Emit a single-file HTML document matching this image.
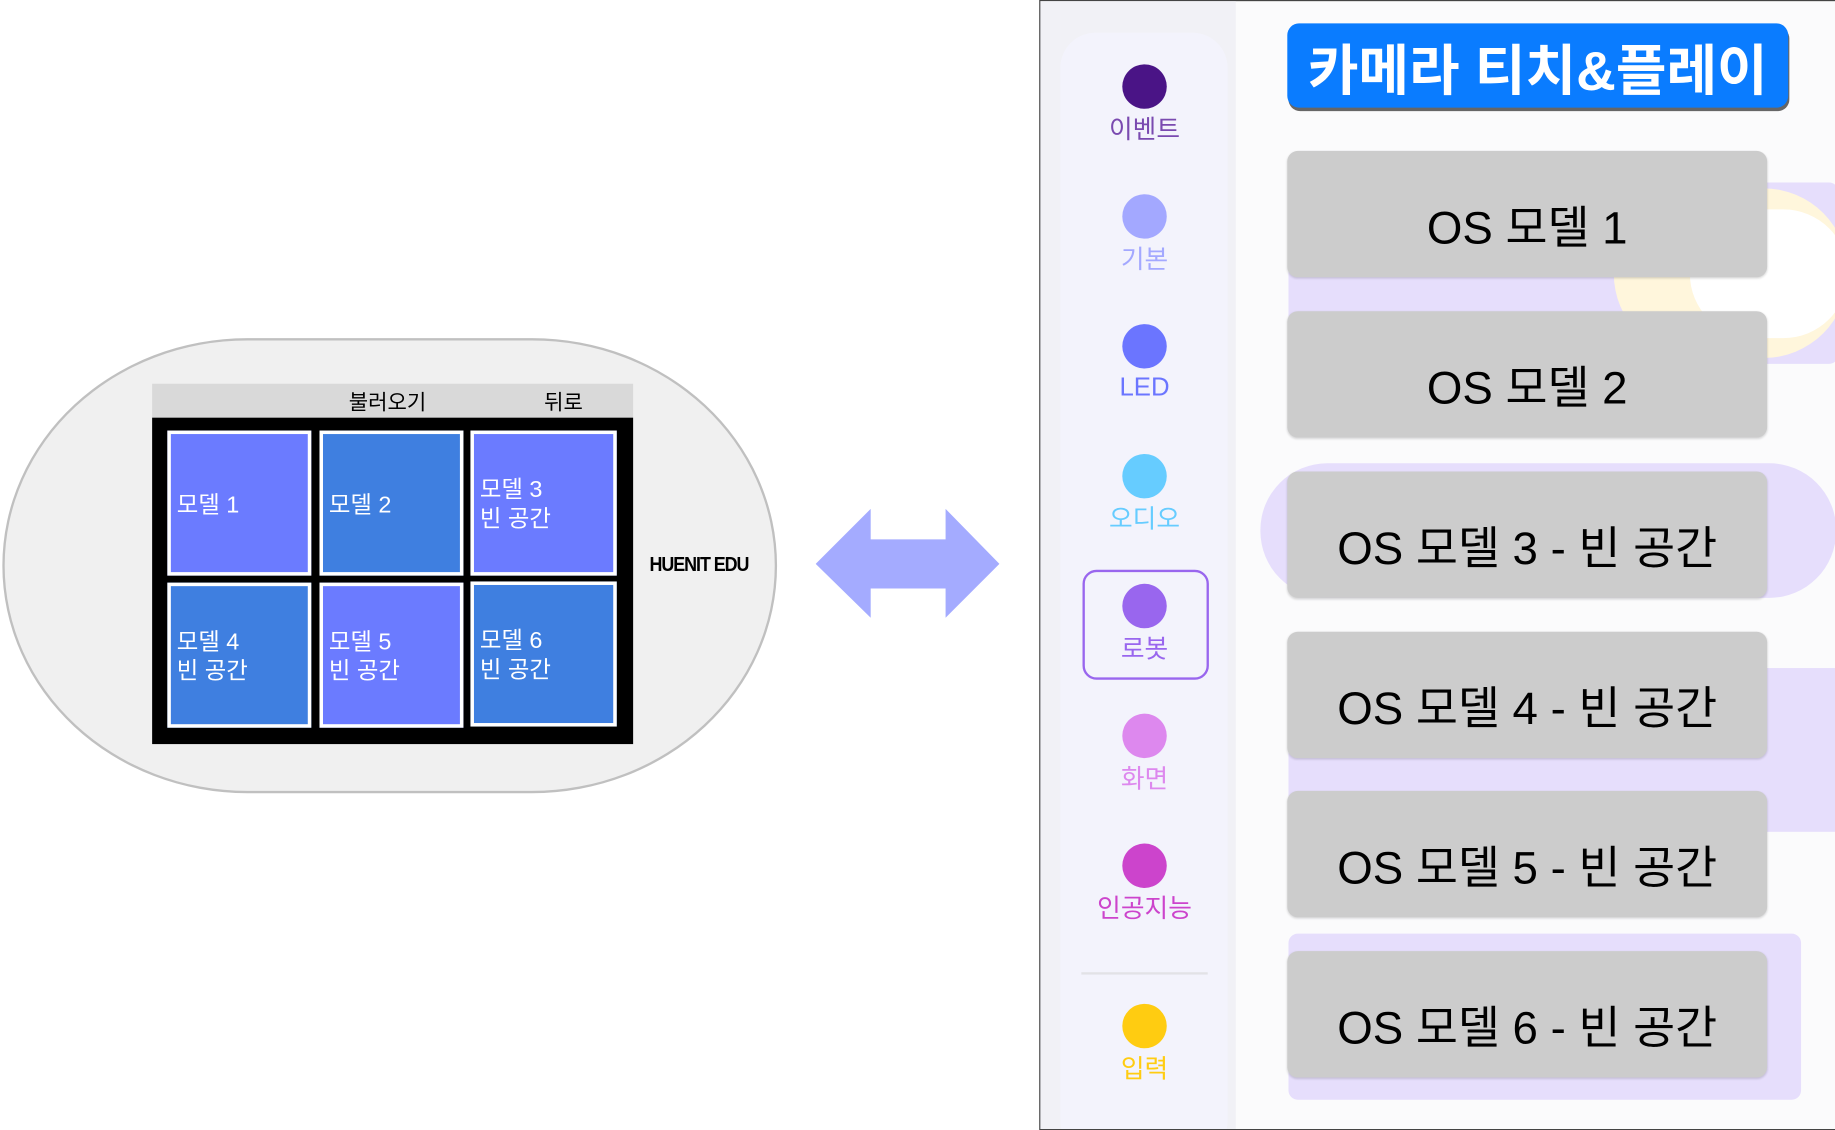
<!DOCTYPE html>
<html><head><meta charset="utf-8"><style>
html,body{margin:0;padding:0;background:#fff;width:1835px;height:1129px;overflow:hidden}
#w{position:absolute;left:0;top:0;width:1568px;height:965px;transform:scale(1.17028,1.16995);transform-origin:0 0;font-family:"Liberation Sans","Noto Sans CJK KR",sans-serif}
.a{position:absolute}
.cell{position:absolute;border:3px solid #fff;color:#fff;font-size:20px;line-height:25px;box-sizing:border-box;display:flex;flex-direction:column;justify-content:center;padding-left:5px;padding-top:4px}
.p{background:#6b7bff}.b{background:#3f7fe0}
.dot{position:absolute;left:959px;width:38px;height:38px;border-radius:50%}
.lb{position:absolute;left:928px;width:100px;text-align:center;font-size:22px}
.g{position:absolute;left:1100px;width:410px;height:108px;background:#cccccc;border-radius:9px;box-shadow:0 1px 2px rgba(0,0,0,.15);font-size:39px;color:#000;display:flex;align-items:center;justify-content:center;padding-top:18px;box-sizing:border-box}
.bg{position:absolute;background:#e6defc}
</style></head><body><div id="w">
<div class="a" style="left:2px;top:289px;width:658px;height:385px;background:#f0f0f0;border:2px solid #c0c0c0;border-radius:210px/195px"></div>
<div class="a" style="left:130px;top:328px;width:411px;height:29px;background:#d9d9d9"></div>
<div class="a" style="left:298px;top:330px;font-size:18px">불러오기</div>
<div class="a" style="left:465px;top:330px;font-size:18px">뒤로</div>
<div class="a" style="left:130px;top:357px;width:411px;height:279px;background:#000"></div>
<div class="cell p" style="left:143px;top:368px;width:123px;height:124px">모델 1</div>
<div class="cell b" style="left:273px;top:368px;width:123px;height:124px">모델 2</div>
<div class="cell p" style="left:402px;top:368px;width:125px;height:124px">모델 3<br>빈 공간</div>
<div class="cell b" style="left:143px;top:498px;width:123px;height:124px">모델 4<br>빈 공간</div>
<div class="cell p" style="left:273px;top:498px;width:123px;height:124px">모델 5<br>빈 공간</div>
<div class="cell b" style="left:402px;top:497px;width:125px;height:124px">모델 6<br>빈 공간</div>
<div class="a" style="left:555px;top:473px;font-size:17px;font-weight:bold;letter-spacing:-1px;transform:scaleX(.9);transform-origin:0 0">HUENIT EDU</div>
<svg class="a" style="left:697px;top:435px" width="158" height="94"><polygon points="0,47 47,0 47,26 111,26 111,0 157,47 111,93 111,68 47,68 47,93" fill="#a4abff"/></svg>

<div class="a" style="left:888px;top:0;width:679px;height:964px;border:1px solid #444;background:#fbfbfc;overflow:hidden">
 <div class="a" style="left:0;top:0;width:167px;height:964px;background:#f1f1f6"></div>
 <div class="a" style="left:17px;top:27px;width:143px;height:960px;background:#f3f3fc;border-radius:30px"></div>
 <div class="bg" style="left:212px;top:155px;width:470px;height:155px;border-radius:8px"></div>
 <div class="a" style="left:490px;top:160px;width:200px;height:145px;background:#fff6dc;border-radius:72px"></div>
 <div class="a" style="left:555px;top:178px;width:135px;height:110px;background:#fff;border-radius:55px"></div>
 <div class="bg" style="left:188px;top:395px;width:492px;height:115px;border-radius:57px"></div>
 <div class="bg" style="left:212px;top:570px;width:470px;height:140px"></div>
 <div class="bg" style="left:212px;top:797px;width:438px;height:142px;border-radius:8px"></div>
</div>
<div class="dot" style="top:55px;background:#4a1486"></div><div class="lb" style="top:93px;color:#7a4ab0">이벤트</div>
<div class="dot" style="top:166px;background:#a3a8ff"></div><div class="lb" style="top:204px;color:#a3a8ff">기본</div>
<div class="dot" style="top:277px;background:#6b75ff"></div><div class="lb" style="top:318px;color:#6b75ff">LED</div>
<div class="dot" style="top:388px;background:#66ccff"></div><div class="lb" style="top:426px;color:#66ccff">오디오</div>
<div class="a" style="left:925px;top:487px;width:104px;height:90px;border:2px solid #9966ee;border-radius:12px"></div>
<div class="dot" style="top:499px;background:#9966ee"></div><div class="lb" style="top:537px;color:#9966ee">로봇</div>
<div class="dot" style="top:610px;background:#dd88ee"></div><div class="lb" style="top:648px;color:#dd88ee">화면</div>
<div class="dot" style="top:721px;background:#cc44cc"></div><div class="lb" style="top:759px;color:#cc44cc">인공지능</div>
<div class="a" style="left:924px;top:831px;width:108px;height:2px;background:#e2e2e6"></div>
<div class="dot" style="top:858px;background:#ffcc11"></div><div class="lb" style="top:896px;color:#ffcc11">입력</div>

<div class="a" style="left:1100px;top:20px;width:428px;height:72px;background:#0a7cff;border-radius:10px;box-shadow:1px 3px 0 #666;color:#fff;font-weight:bold;font-size:47px;display:flex;align-items:center;justify-content:center">카메라 티치&amp;플레이</div>
<div class="g" style="top:129px">OS 모델 1</div>
<div class="g" style="top:266px">OS 모델 2</div>
<div class="g" style="top:403px">OS 모델 3 - 빈 공간</div>
<div class="g" style="top:540px">OS 모델 4 - 빈 공간</div>
<div class="g" style="top:676px">OS 모델 5 - 빈 공간</div>
<div class="g" style="top:813px">OS 모델 6 - 빈 공간</div>
</div></body></html>
